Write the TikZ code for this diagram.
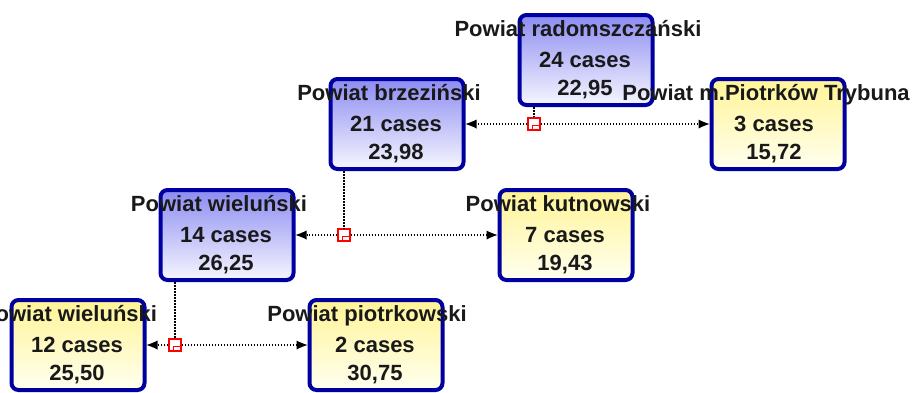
\documentclass[tikz,border=0pt]{standalone}
\usepackage{fontspec}
\setmainfont{Liberation Sans}
\usetikzlibrary{arrows.meta}

\definecolor{boxblue}{RGB}{0,0,160}
\definecolor{purpletop}{RGB}{140,140,242}
\definecolor{purplebot}{RGB}{246,246,255}
\definecolor{yellowtop}{RGB}{255,244,150}
\definecolor{yellowbot}{RGB}{255,255,240}

\begin{document}
\begin{tikzpicture}[x=1pt,y=-1pt]
	\tikzstyle{box}=[rectangle,rounded corners=7pt,draw=boxblue,line width=4pt,minimum width=133pt,minimum height=90pt,inner sep=0]
	\tikzstyle{split}=[box,top color=purpletop,bottom color=purplebot]
	\tikzstyle{leaf}=[box,top color=yellowtop,bottom color=yellowbot]
	\tikzstyle{txt}=[align=center,anchor=base,text=black!90,font=\bfseries\fontsize{22}{28}\selectfont,inner sep=0]
	\tikzstyle{junc}=[rectangle,draw=red,fill=white,line width=1.3pt,minimum size=12pt,inner sep=0,
		path picture={\draw[red,line width=1pt] ([xshift=6pt,yshift=-1pt]path picture bounding box.center) -- ++(-8pt,0) -- ++(0,-4pt) -- ++(8pt,0);}]
	\tikzstyle{link}=[black,line width=1.6pt,dash pattern=on 1.6pt off 1.4pt]
	\tikzstyle{edge}=[link,-{Latex[length=11pt,width=9pt,line width=0pt,fill=black]}]

	\useasboundingbox[fill=white] (0,0) rectangle (912,392);

	\node [split] (rad) at (586, 60) {};
	\node [split] (brz) at (397,124) {};
	\node [leaf]  (pio) at (778,124) {};
	\node [split] (wie) at (227,235) {};
	\node [leaf]  (kut) at (566,235) {};
	\node [leaf]  (wil) at ( 78,345) {};
	\node [leaf]  (ptk) at (376,345) {};

	% names above, counts and values below
	\node [txt] (rad-l) at ([shift={(-8,-24)}]rad.center) {Powiat radomszczański};
	\node [txt] (rad-t) at ([shift={(-1,35)}]rad.center) {24 cases\\22,95};
	\node [txt] (brz-l) at ([shift={(-8,-24)}]brz.center) {Powiat brzeziński};
	\node [txt] (brz-t) at ([shift={(-1,35)}]brz.center) {21 cases\\23,98};
	\node [txt] (pio-l) at ([shift={(-12,-24)}]pio.center) {Powiat m.Piotrków Trybuna};
	\node [txt] (pio-t) at ([shift={(-4,35)}]pio.center) {3 cases\\15,72};
	\node [txt] (wie-l) at ([shift={(-8,-24)}]wie.center) {Powiat wieluński};
	\node [txt] (wie-t) at ([shift={(-1,35)}]wie.center) {14 cases\\26,25};
	\node [txt] (kut-l) at ([shift={(-8,-24)}]kut.center) {Powiat kutnowski};
	\node [txt] (kut-t) at ([shift={(-1,35)}]kut.center) {7 cases\\19,43};
	\node [txt] (wil-l) at ([shift={(-9,-24)}]wil.center) {Powiat wieluński};
	\node [txt] (wil-t) at ([shift={(-1,35)}]wil.center) {12 cases\\25,50};
	\node [txt] (ptk-l) at ([shift={(-9,-24)}]ptk.center) {Powiat piotrkowski};
	\node [txt] (ptk-t) at ([shift={(-1,35)}]ptk.center) {2 cases\\30,75};

	\node [junc] (j1) at (534,124) {};
	\node [junc] (j2) at (344,235) {};
	\node [junc] (j3) at (175,345) {};

	\draw[link] (rad.south -| j1)--(j1);
	\draw[edge] (j1)--(brz);
	\draw[edge] (j1)--(pio);

	\draw[link] (brz.south -| j2)--(j2);
	\draw[edge] (j2)--(wie);
	\draw[edge] (j2)--(kut);

	\draw[link] (wie.south -| j3)--(j3);
	\draw[edge] (j3)--(wil);
	\draw[edge] (j3)--(ptk);
\end{tikzpicture}
\end{document}
